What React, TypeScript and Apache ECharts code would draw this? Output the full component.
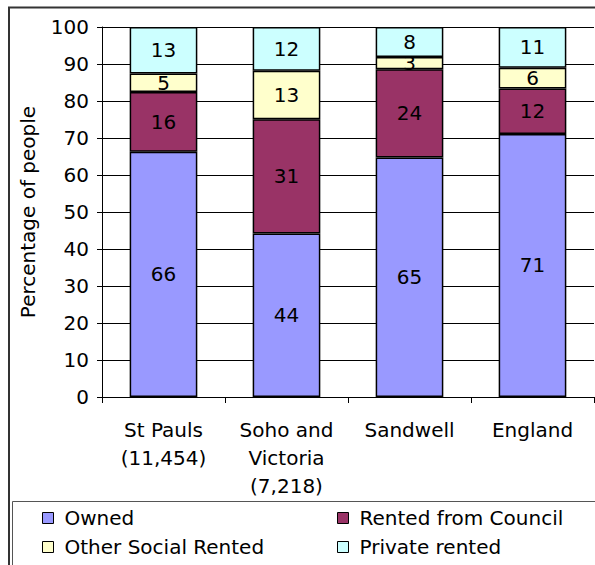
import React, { useEffect, useRef } from "react";
import * as echarts from "echarts";

const categories = ["St Pauls\n(11,454)", "Soho and\nVictoria\n(7,218)", "Sandwell", "England"];
const owned = [66.3, 44.2, 64.7, 71.1];
const rentedCouncil = [16.1, 30.9, 23.9, 12.3];
const otherSocial = [5.0, 13.1, 3.3, 5.6];
const privateRented = [12.6, 11.8, 8.1, 11.0];
const yTicks = { min: 0, max: 100, interval: 10 };

const FONT = "DejaVu Sans";

export default function App() {
  const ref = useRef<HTMLDivElement>(null);
  useEffect(() => {
    document.body.style.margin = "0";
    const chart = echarts.init(ref.current!, undefined, { renderer: "svg" });
    const mk = (name: string, data: number[], color: string) => ({
      name,
      type: "bar",
      stack: "total",
      data,
      barWidth: "55%",
      itemStyle: { color, borderColor: "#000", borderWidth: 1.5 },
      label: {
        show: true,
        position: "inside",
        color: "#000",
        fontFamily: FONT,
        fontSize: 20,
        formatter: (p: any) => String(Math.round(p.value)),
      },
    });
    const legendText = {
      fontFamily: FONT,
      fontSize: 20,
      color: "#000",
      lineHeight: 20,
      padding: [0, 0, 0, 6],
    };
    chart.setOption({
      animation: false,
      backgroundColor: "#fff",
      grid: { left: 102, top: 27, width: 492, height: 370, containLabel: false },
      xAxis: {
        type: "category",
        data: categories,
        axisLine: { lineStyle: { color: "#000", width: 1 } },
        axisTick: { show: true, length: 6, lineStyle: { color: "#000" } },
        axisLabel: {
          interval: 0,
          margin: 19,
          fontFamily: FONT,
          fontSize: 20,
          lineHeight: 28,
          color: "#000",
        },
      },
      yAxis: {
        type: "value",
        min: yTicks.min,
        max: yTicks.max,
        interval: yTicks.interval,
        name: "Percentage of people",
        nameLocation: "middle",
        nameRotate: 90,
        nameGap: 64,
        nameTextStyle: {
          fontFamily: FONT,
          fontSize: 20,
          color: "#000",
          width: 205,
          overflow: "truncate",
          ellipsis: "",
        },
        axisLine: { show: true, lineStyle: { color: "#000", width: 1 } },
        axisTick: { show: true, length: 5, lineStyle: { color: "#000" } },
        axisLabel: { margin: 13, fontFamily: FONT, fontSize: 20, color: "#000" },
        splitLine: { show: true, lineStyle: { color: "#000", width: 1 } },
      },
      legend: [
        {
          left: 42,
          top: 508,
          orient: "vertical",
          padding: 0,
          itemGap: 9,
          itemWidth: 11,
          itemHeight: 11,
          icon: "rect",
          itemStyle: { borderColor: "#000", borderWidth: 1 },
          textStyle: legendText,
          data: ["Owned", "Other Social Rented"],
        },
        {
          left: 337,
          top: 508,
          orient: "vertical",
          padding: 0,
          itemGap: 9,
          itemWidth: 11,
          itemHeight: 11,
          icon: "rect",
          itemStyle: { borderColor: "#000", borderWidth: 1 },
          textStyle: legendText,
          data: ["Rented from Council", "Private rented"],
        },
      ],
      graphic: [
        {
          type: "rect",
          silent: true,
          shape: { x: 9, y: 7.5, width: 700, height: 700 },
          style: { fill: "none", stroke: "#333", lineWidth: 2 },
        },
        {
          type: "rect",
          silent: true,
          shape: { x: 12.5, y: 501.5, width: 700, height: 200 },
          style: { fill: "none", stroke: "#555", lineWidth: 1 },
        },
      ],
      series: [
        mk("Owned", owned, "#9999FF"),
        mk("Rented from Council", rentedCouncil, "#993366"),
        mk("Other Social Rented", otherSocial, "#FFFFCC"),
        mk("Private rented", privateRented, "#CCFFFF"),
      ],
    });
    return () => chart.dispose();
  }, []);
  return <div ref={ref} style={{ width: 595, height: 565 }} />;
}
